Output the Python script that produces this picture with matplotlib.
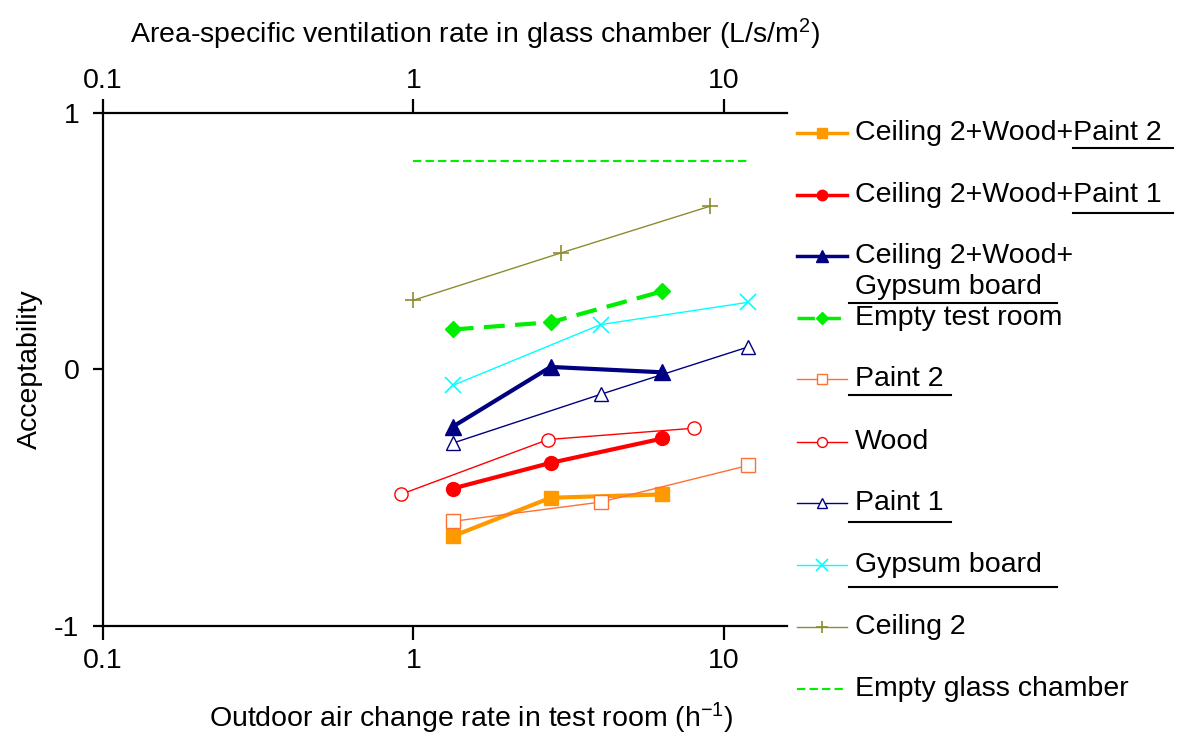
import matplotlib
matplotlib.use('Agg')
import matplotlib.pyplot as plt
from matplotlib.lines import Line2D

plt.rcParams['font.family'] = ['Liberation Sans', 'DejaVu Sans']
plt.rcParams['mathtext.fontset'] = 'custom'
plt.rcParams['mathtext.rm'] = 'Liberation Sans'
plt.rcParams['mathtext.default'] = 'regular'

# air change rates (h-1) for each group of measurements
x_combo = [1.34, 2.77, 6.35]
x_single = [1.34, 4.01, 12.0]
x_wood = [0.91, 2.72, 8.0]
x_ceiling = [1.0, 3.0, 9.06]
x_glass = [1.0, 12.1]

# acceptability values
y_c2_wood_paint2 = [-0.650, -0.500, -0.487]
y_c2_wood_paint1 = [-0.464, -0.364, -0.269]
y_c2_wood_gypsum = [-0.223, 0.010, -0.011]
y_empty_room = [0.156, 0.184, 0.305]
y_paint2 = [-0.592, -0.517, -0.374]
y_wood = [-0.487, -0.273, -0.229]
y_paint1 = [-0.287, -0.097, 0.088]
y_gypsum = [-0.062, 0.175, 0.262]
y_ceiling2 = [0.270, 0.455, 0.637]
y_glass = [0.811, 0.811]

labels = ['Ceiling 2+Wood+Paint 2', 'Ceiling 2+Wood+Paint 1',
          'Ceiling 2+Wood+\nGypsum board', 'Empty test room', 'Paint 2',
          'Wood', 'Paint 1', 'Gypsum board', 'Ceiling 2', 'Empty glass chamber']

olive = '#8C8C2E'
# (x, y, style)
series = [
    (x_combo, y_c2_wood_paint2, dict(color='#FF9900', lw=3, marker='s', ms=10, mfc='#FF9900')),
    (x_combo, y_c2_wood_paint1, dict(color='#FF0000', lw=3, marker='o', ms=10, mfc='#FF0000')),
    (x_combo, y_c2_wood_gypsum, dict(color='#000080', lw=3, marker='^', ms=11, mfc='#000080')),
    (x_combo, y_empty_room, dict(color='#00EE00', lw=3, ls=(0, (5, 2.5)), marker='D', ms=8, mfc='#00EE00')),
    (x_single, y_paint2, dict(color='#FF7033', lw=1, marker='s', ms=9.5, mfc='white')),
    (x_wood, y_wood, dict(color='#FF0000', lw=1, marker='o', ms=9.5, mfc='white')),
    (x_single, y_paint1, dict(color='#000080', lw=1, marker='^', ms=10.5, mfc='white')),
    (x_single, y_gypsum, dict(color='#00FFFF', lw=1, marker='x', ms=11, mew=1.2)),
    (x_ceiling, y_ceiling2, dict(color=olive, lw=1, marker='+', ms=11, mew=1.2)),
    (x_glass, y_glass, dict(color='#00EE00', lw=1.5, ls=(0, (4, 2)))),
]

W, H = 1177, 738
fig = plt.figure(figsize=(W / 100, H / 100), dpi=100)
left, right, top, bottom = 103, 787, 113, 626
ax = fig.add_axes([left / W, 1 - bottom / H, (right - left) / W, (bottom - top) / H])

for i, (xs, ys, st) in enumerate(series):
    ax.plot(xs, ys, zorder=3 + i, clip_on=False, **st)

ax.set_xscale('log')
ax.set_xlim(0.1, 16)
ax.set_ylim(-1, 1)
ax.set_xticks([0.1, 1, 10], ['0.1', '1', '10'])
ax.xaxis.set_minor_locator(plt.NullLocator())
ax.set_yticks([-1, 0, 1], ['-1', '0', '1'])
ax.spines['right'].set_visible(False)
for s in ['left', 'bottom', 'top']:
    ax.spines[s].set_linewidth(1.6)
ax.tick_params(axis='x', direction='out', length=10, width=1.6, labelsize=20.5, pad=6)
ax.tick_params(axis='y', direction='out', length=7, width=1.6, labelsize=20.5, pad=10)

ax2 = ax.twiny()
ax2.set_xscale('log')
ax2.set_xlim(ax.get_xlim())
ax2.set_xticks([0.1, 1, 10], ['0.1', '1', '10'])
ax2.xaxis.set_minor_locator(plt.NullLocator())
for s in ax2.spines.values():
    s.set_visible(False)
ax2.tick_params(axis='x', direction='out', length=10, width=1.6, labelsize=20.5, pad=4)

ax.set_xlabel('Outdoor air change rate in test room (h$^{-1}$)', fontsize=20.5)
ax.xaxis.set_label_coords(0.538, -0.145)
ax2.set_xlabel('Area-specific ventilation rate in glass chamber (L/s/m$^{2}$)', fontsize=20.5)
ax2.xaxis.set_label_coords(0.544, 1.135)
ax.set_ylabel('Acceptability', fontsize=20.5)
ax.yaxis.set_label_coords(-0.088, 0.5)

# legend drawn by hand to the right of the plot
row_y = [133, 195, 256, 318, 379, 442, 503, 565, 627, 689]
h0, h1, tx = 797, 847, 855
for (xs, ys, st), lab, ry in zip(series, labels, row_y):
    st = dict(st)
    if 'ms' in st:
        st['ms'] = st['ms'] * 0.75
    if st['lw'] > 2:
        st['lw'] = 2.5
    fy = 1 - ry / H
    fig.add_artist(Line2D([h0 / W, h1 / W], [fy, fy], **{k: v for k, v in st.items() if k != 'marker' and k != 'ms' and k != 'mfc' and k != 'mew'}))
    if 'marker' in st:
        fig.add_artist(Line2D([(h0 + h1) / 2 / W], [fy], ls='none', marker=st['marker'], ms=st['ms'],
                              color=st['color'], mfc=st.get('mfc', st['color']), mew=st.get('mew', 1)))
    for j, line in enumerate(lab.split('\n')):
        fig.text(tx / W, 1 - (ry + 31 * j) / H, line, fontsize=20.5, va='center', ha='left')

# underlines that appear in the legend
underlines = [(1073, 1173, 148), (1073, 1173, 213), (849, 1057, 303),
              (849, 951, 395), (849, 951, 522), (849, 1057, 587)]
for x0, x1, uy in underlines:
    fig.add_artist(Line2D([x0 / W, x1 / W], [1 - uy / H, 1 - uy / H], color='black', lw=1.5))

fig.savefig('out.png', dpi=100)
